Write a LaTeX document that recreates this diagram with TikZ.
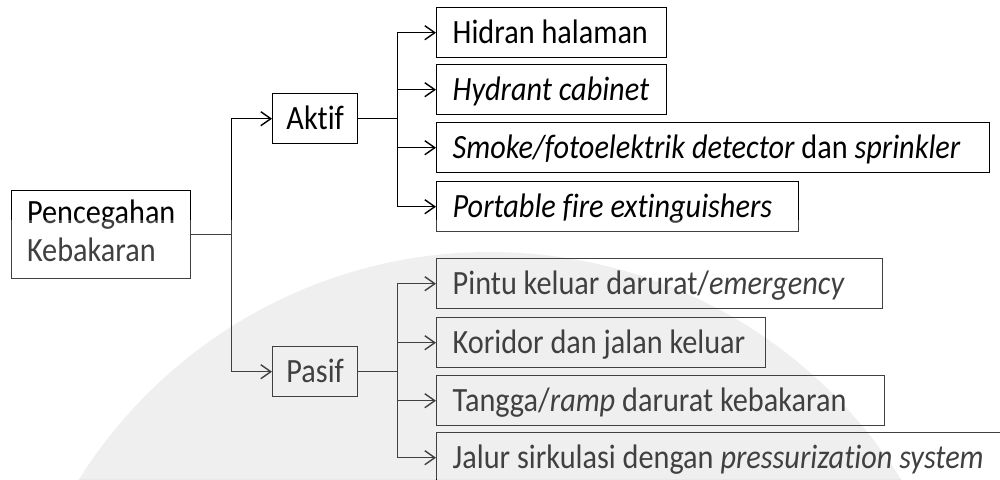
\documentclass[tikz,border=0pt]{standalone}
\usepackage{fontspec}
\setmainfont[FakeStretch=0.89,RawFeature=-liga]{Carlito}
\usetikzlibrary{arrows.meta}
\newcommand{\lbx}[2]{\makebox[#1pt][l]{#2}}
\begin{document}
\begin{tikzpicture}[x=1pt,y=-1pt,
  txt/.style={font=\fontsize{34}{38}\selectfont, text=black},
  box/.style={txt, draw=black, line width=1.4pt, rectangle, inner xsep=16pt, inner ysep=0pt,
    anchor=north west, minimum height=50pt, text height=22pt, text depth=0pt},
  midbox/.style={box, inner xsep=0pt, minimum width=85pt},
  rootbox/.style={txt, draw=black, line width=1.4pt, rectangle, inner xsep=14pt, inner ysep=0pt,
    anchor=north west, minimum width=179pt, minimum height=88pt},
  conn/.style={line width=1.5pt, draw=black},
  arr/.style={conn, -{Straight Barb[length=10pt,width=14pt,line width=1.4pt]}}
]
\useasboundingbox (0,0) rectangle (1000,479);
\clip (0,0) rectangle (1000,479);
% faint watermark disc
\fill[black, opacity=0.085] (490,737) circle (485);

% root
\node[rootbox] (pk) at (11,190) {\raisebox{-5pt}{\begin{tabular}{@{}l@{}}Pencegahan\\Kebakaran\end{tabular}}};

% level 1
\node[midbox] (aktif) at (272,93) {Aktif};
\node[midbox] (pasif) at (272,346) {Pasif};

% aktif children
\node[box] (h1) at (436,7)   {\lbx{198}{Hidran halaman}};
\node[box] (h2) at (436,64)  {\lbx{198}{\itshape Hydrant cabinet}};
\node[box] (h3) at (436,122) {\lbx{521}{\textit{Smoke/fotoelektrik detector} dan \textit{sprinkler}}};
\node[box] (h4) at (436,181) {\lbx{330}{\itshape Portable fire extinguishers}};

% pasif children
\node[box] (p1) at (436,258) {\lbx{414}{Pintu keluar darurat/\textit{emergency}}};
\node[box] (p2) at (436,317) {\lbx{297}{Koridor dan jalan keluar}};
\node[box] (p3) at (436,375) {\lbx{416}{Tangga/\textit{ramp} darurat kebakaran}};
\node[box] (p4) at (436,432) {\lbx{542}{Jalur sirkulasi dengan \textit{pressurization system}}};

% connectors
\draw[arr] (pk.east) -- ++(40,0) |- (aktif.west);
\draw[arr] (pk.east) -- ++(40,0) |- (pasif.west);
\foreach \c in {h1,h2,h3,h4}
  \draw[arr] (aktif.east) -- ++(39,0) |- (\c.west);
\foreach \c in {p1,p2,p3,p4}
  \draw[arr] (pasif.east) -- ++(39,0) |- (\c.west);

% lighter lower part (as in the scanned reference)
\fill[white, opacity=0.25] (0,220) rectangle (1000,479);
\end{tikzpicture}
\end{document}
